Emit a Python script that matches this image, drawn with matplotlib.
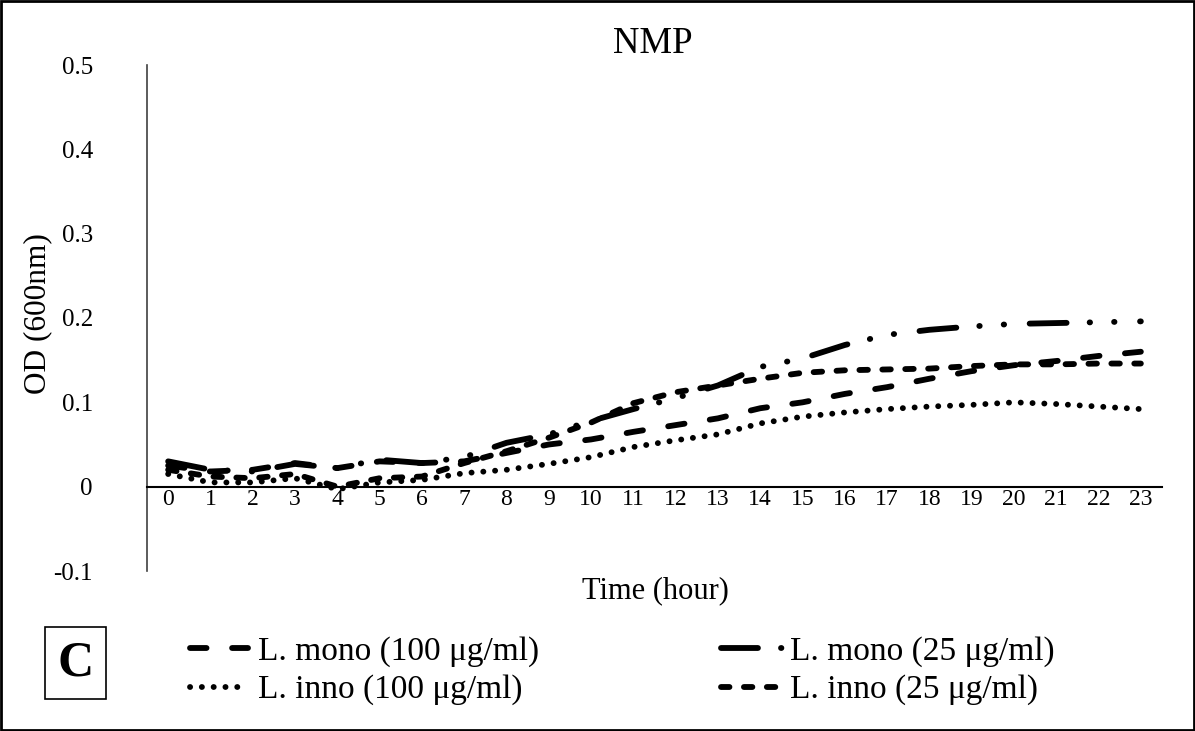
import matplotlib
matplotlib.use("Agg")
import matplotlib.pyplot as plt
from matplotlib.patches import Rectangle

plt.rcParams['font.family'] = ['Liberation Serif', 'DejaVu Serif']
plt.rcParams['lines.scale_dashes'] = False

hours = list(range(24))
hour_labels = [str(h) for h in hours]

mono_100 = [0.025, 0.018, 0.020, 0.028, 0.022, 0.030, 0.028, 0.030, 0.040, 0.050,
            0.056, 0.065, 0.073, 0.081, 0.093, 0.100, 0.110, 0.118, 0.128, 0.137,
            0.144, 0.149, 0.155, 0.160]
mono_25 = [0.030, 0.020, 0.018, 0.027, 0.022, 0.032, 0.028, 0.035, 0.052, 0.062,
           0.078, 0.092, 0.105, 0.120, 0.142, 0.152, 0.168, 0.180, 0.186, 0.190,
           0.193, 0.194, 0.195, 0.196]
inno_100 = [0.015, 0.005, 0.005, 0.010, -0.003, 0.005, 0.008, 0.016, 0.020, 0.027,
            0.035, 0.047, 0.055, 0.062, 0.075, 0.083, 0.088, 0.092, 0.095, 0.097,
            0.100, 0.098, 0.095, 0.092]
inno_25 = [0.020, 0.012, 0.010, 0.015, 0.000, 0.010, 0.012, 0.028, 0.042, 0.058,
           0.076, 0.099, 0.112, 0.120, 0.128, 0.135, 0.138, 0.139, 0.140, 0.143,
           0.145, 0.145, 0.146, 0.146]

labels = ["L. mono (100 \u03bcg/ml)", "L. mono (25 \u03bcg/ml)",
          "L. inno (100 \u03bcg/ml)", "L. inno (25 \u03bcg/ml)"]

LW = 4.2
styles = {
    'mono100': dict(dashes=(11.9, 18.4)),
    'mono25': dict(dashes=(26.6, 16.6, 0.3, 17.3, 0.3, 18.4)),
    'inno100': dict(dashes=(0.1, 8.4)),
    'inno25': dict(dashes=(6.1, 10.4)),
}

fig = plt.figure(figsize=(11.95, 7.31), dpi=100)
ax = fig.add_axes([147/1195, 1-571/731, (1162-147)/1195, (571-65)/731])

common = dict(color='black', lw=LW, solid_capstyle='round', dash_capstyle='round')
h1, = ax.plot(hours, mono_100, label=labels[0], **common, **styles['mono100'])
h2, = ax.plot(hours, mono_25, label=labels[1], **common, **styles['mono25'])
h3, = ax.plot(hours, inno_100, label=labels[2], **common, **styles['inno100'])
h4, = ax.plot(hours, inno_25, label=labels[3], **common, **styles['inno25'])

ax.set_xlim(-0.5, 23.5)
ax.set_ylim(-0.1, 0.5)
ax.set_yticks([-0.1, 0, 0.1, 0.2, 0.3, 0.4, 0.5])
ax.set_yticklabels(['-0.1', '0', '0.1', '0.2', '0.3', '0.4', '0.5'])
ax.set_xticks(hours)
ax.set_xticklabels(hour_labels)
ax.tick_params(axis='x', length=0, labelsize=17, pad=2)
ax.tick_params(axis='y', length=0, labelsize=18, pad=39)

for s in ['top', 'right']:
    ax.spines[s].set_visible(False)
ax.spines['bottom'].set_position(('data', 0))
ax.spines['bottom'].set_linewidth(1.5)
ax.spines['left'].set_linewidth(1.2)
ax.spines['left'].set_color('#404040')

fig.text(653/1195, 1-44/731, "NMP", fontsize=26.5, ha='center', va='center')
fig.text(655/1195, 1-591/731, "Time (hour)", fontsize=22, ha='center', va='center')
fig.text(38/1195, 1-314/731, "OD (600nm)", fontsize=22.5, ha='center', va='center', rotation=90)

FS = 24
leg1 = fig.legend(handles=[h1, h3], loc='center left', bbox_to_anchor=(190/1195, 1-671/731),
                  frameon=False, fontsize=FS, handlelength=1.75, handletextpad=0.3,
                  labelspacing=0.22, borderaxespad=0, borderpad=0)
leg2 = fig.legend(handles=[h2, h4], loc='center left', bbox_to_anchor=(721/1195, 1-671/731),
                  frameon=False, fontsize=FS, handlelength=1.86, handletextpad=0.2,
                  labelspacing=0.22, borderaxespad=0, borderpad=0)

fig.patches.append(Rectangle((45/1195, 1-699/731), 61/1195, 72/731, transform=fig.transFigure,
                             fill=False, edgecolor='black', lw=1.2))
fig.text(75.5/1195, 1-663/731, "C", fontsize=36, fontweight='bold', ha='center', va='center')

fig.patches.append(Rectangle((0.001, 0.001), 0.998, 0.998, transform=fig.transFigure,
                             fill=False, edgecolor='black', lw=2))

fig.savefig("out.png", dpi=100)
